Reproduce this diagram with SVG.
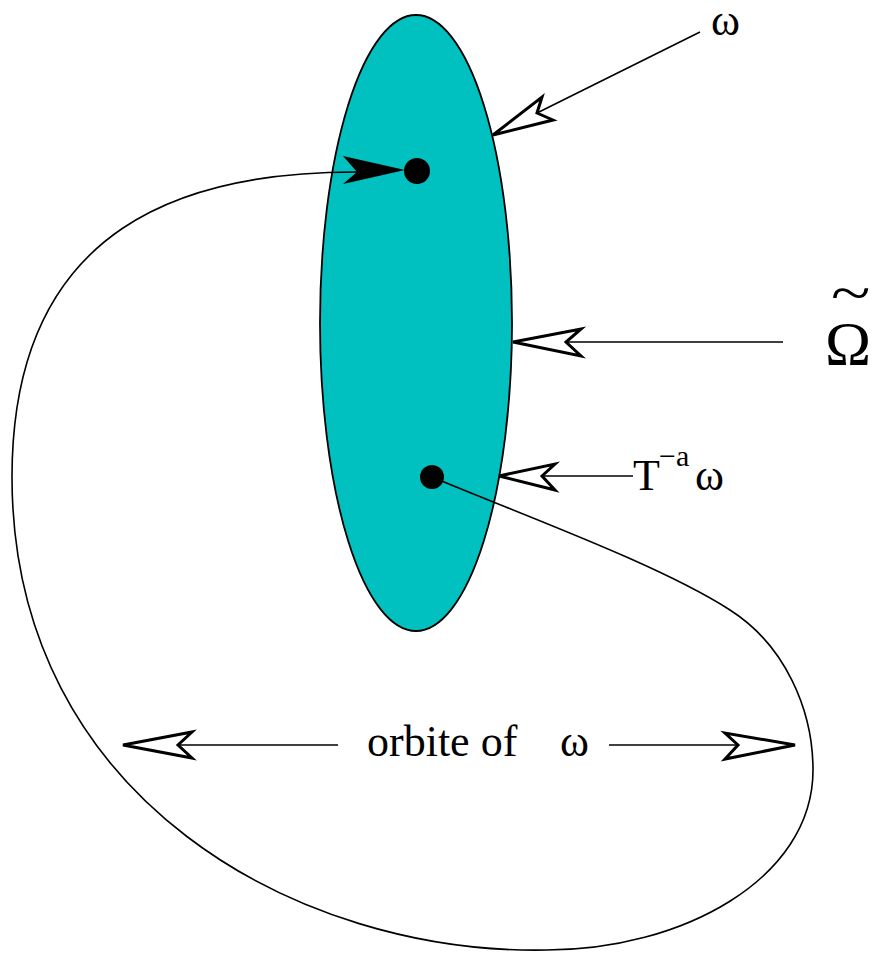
<svg xmlns="http://www.w3.org/2000/svg" width="880" height="956" viewBox="0 0 880 956">
<style>
.lbl{font-family:"Liberation Serif","Times New Roman","DejaVu Serif",serif;fill:#000}
.ln{fill:none;stroke:#000;stroke-width:1.6}
.open{fill:#fff;stroke:#000;stroke-width:3;stroke-linejoin:miter}
</style>
<rect width="880" height="956" fill="#fff"/>
<g id="region">
<ellipse cx="416" cy="323" rx="96" ry="308" fill="#00c0c0" stroke="#000" stroke-width="1.8"/>
</g>
<g id="connectors">
<path class="ln" d="M432,477 C530,518 660,565 730,610 C785,645 813,710 813,770 C813,880 680,950 547,950 C300,955 12,800 12,477 C12,222 190,171 360,172"/>
<polygon points="405,170 343,156 357,172 343,184" fill="#000"/>
<line class="ln" x1="700" y1="32" x2="537" y2="113"/>
<polygon class="open" points="493,135 542,97 537,113 553,120"/>
<line class="ln" x1="783" y1="342" x2="566" y2="342"/>
<polygon class="open" points="513,342 581,329 566,342 581,356"/>
<line class="ln" x1="633" y1="476" x2="542" y2="476"/>
<polygon class="open" points="499,476 555,464 542,476 555,490"/>
<line class="ln" x1="338" y1="745" x2="178" y2="745"/>
<polygon class="open" points="123,745 192,732 178,745 192,758"/>
<line class="ln" x1="609" y1="745" x2="738" y2="745"/>
<polygon class="open" points="795,745 725,733 738,745 725,759"/>
</g>
<g id="dot1"><circle cx="417" cy="171" r="13" fill="#000"/></g>
<g id="dot2"><circle cx="432" cy="477" r="12" fill="#000"/></g>
<g id="label-omega"><text class="lbl" x="711" y="35" font-size="44">ω</text></g>
<g id="label-Omega">
<text class="lbl" font-size="56" transform="translate(831,312) scale(1.3,1)">~</text>
<text class="lbl" x="825" y="364" font-size="62">Ω</text>
</g>
<g id="label-T"><text class="lbl" x="633" y="490" font-size="44">T</text><text class="lbl" x="659" y="466" font-size="30">−a</text><text class="lbl" x="695" y="490" font-size="44">ω</text></g>
<g id="label-orbit"><text class="lbl" x="367" y="756" font-size="44">orbite of</text><text class="lbl" x="560" y="756" font-size="44">ω</text></g>
</svg>
